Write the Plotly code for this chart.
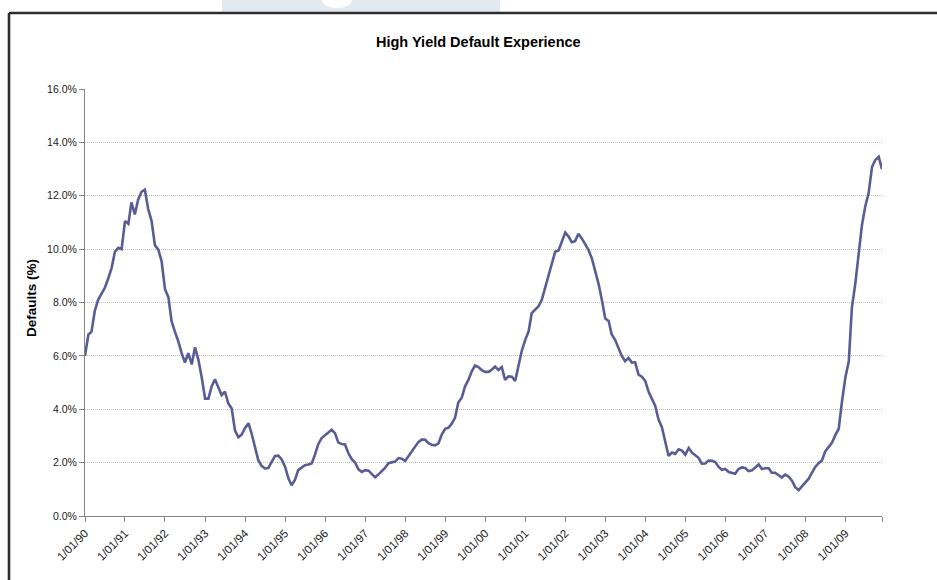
import pandas as pd
import plotly.graph_objects as go

title = "High Yield Default Experience"
y_title = "Defaults (%)"
start_month = "1990-01-01"

default_rate = [
    6.0, 6.8, 6.9, 7.7, 8.1, 8.35, 8.55, 8.9, 9.3, 9.9, 10.05, 10.0,
    11.05, 10.95, 11.75, 11.3, 11.85, 12.15, 12.23, 11.5, 11.05, 10.15, 9.98, 9.55,
    8.5, 8.2, 7.3, 6.9, 6.55, 6.1, 5.75, 6.1, 5.68, 6.32, 5.85, 5.2,
    4.4, 4.4, 4.85, 5.12, 4.85, 4.53, 4.66, 4.22, 4.03, 3.2, 2.95, 3.05,
    3.3, 3.48, 3.1, 2.55, 2.1, 1.88, 1.78, 1.8, 2.05, 2.25, 2.26, 2.12,
    1.85, 1.4, 1.15, 1.35, 1.72, 1.83, 1.9, 1.93, 1.97, 2.3, 2.7, 2.92,
    3.02, 3.15, 3.23, 3.1, 2.75, 2.7, 2.68, 2.35, 2.13, 2.0, 1.75, 1.65,
    1.72, 1.7, 1.57, 1.45, 1.55, 1.68, 1.8, 1.98, 2.02, 2.04, 2.17, 2.15,
    2.06, 2.25, 2.42, 2.62, 2.77, 2.86, 2.86, 2.73, 2.67, 2.65, 2.72, 3.05,
    3.27, 3.31, 3.45, 3.68, 4.25, 4.43, 4.85, 5.1, 5.42, 5.64, 5.58, 5.46,
    5.4, 5.4, 5.48, 5.6, 5.47, 5.58, 5.1, 5.23, 5.22, 5.06, 5.65, 6.2,
    6.6, 6.92, 7.6, 7.73, 7.85, 8.1, 8.52, 9.05, 9.48, 9.9, 9.95, 10.3,
    10.62, 10.47, 10.26, 10.3, 10.58, 10.4, 10.18, 9.97, 9.65, 9.22, 8.7, 8.1,
    7.4, 7.31, 6.8, 6.6, 6.32, 6.0, 5.8, 5.92, 5.75, 5.76, 5.3, 5.22,
    5.06, 4.65, 4.4, 4.13, 3.62, 3.33, 2.8, 2.25, 2.38, 2.33, 2.5, 2.45,
    2.3, 2.55, 2.38, 2.27, 2.18, 1.96, 1.97, 2.08, 2.07, 2.02, 1.84, 1.73,
    1.76, 1.65, 1.63, 1.58, 1.76, 1.82, 1.8, 1.68, 1.71, 1.83, 1.93, 1.76,
    1.79, 1.79, 1.62, 1.62, 1.52, 1.44, 1.55, 1.48, 1.32, 1.08, 0.97, 1.1,
    1.24, 1.4, 1.62, 1.84, 1.98, 2.08, 2.42, 2.58, 2.75, 3.03, 3.27, 4.3,
    5.2, 5.8, 7.8, 8.7, 9.7, 10.9, 11.6, 12.1, 13.08, 13.34, 13.46, 13.0,
]

y_ticks = [0, 2, 4, 6, 8, 10, 12, 14, 16]
y_tick_text = [f"{v:.1f}%" for v in y_ticks]

months = pd.date_range(start_month, periods=len(default_rate), freq="MS")
tick_dates = list(months[::12]) + [months[-1]]
tick_text = [d.strftime("%-m/%d/%y") for d in months[::12]] + [""]

W, H = 937, 580
L, R, T, B = 85, 882, 89, 516


def px(x):
    return (x - L) / (R - L)


def py(y):
    return (B - y) / (B - T)


fig = go.Figure()
fig.add_trace(go.Scatter(
    x=months, y=default_rate, mode="lines",
    line=dict(color="#5A5C96", width=2.6),
    hoverinfo="x+y", showlegend=False,
))

font = "Liberation Sans, Arial, sans-serif"

shapes = [
    # faint watermark band at the top
    dict(type="rect", xref="paper", yref="paper", x0=px(222), x1=px(500),
         y0=py(12), y1=py(0), fillcolor="#E3E9F1", line=dict(width=0), layer="below"),
    dict(type="circle", xref="paper", yref="paper", x0=px(322), x1=px(352),
         y0=py(8), y1=py(-8), fillcolor="#FFFFFF", line=dict(width=0), layer="below"),
    # frame
    dict(type="line", xref="paper", yref="paper", x0=px(9), x1=px(940),
         y0=py(13), y1=py(13), line=dict(color="#2E2E2E", width=2.4)),
    dict(type="line", xref="paper", yref="paper", x0=px(9), x1=px(9),
         y0=py(13), y1=py(590), line=dict(color="#2E2E2E", width=2.6)),
]

fig.update_layout(
    width=W, height=H,
    margin=dict(l=L, r=W - R, t=T, b=H - B),
    paper_bgcolor="white", plot_bgcolor="white",
    font=dict(family=font, size=10.5, color="#1A1A1A"),
    shapes=shapes,
    annotations=[
        dict(text="<b>" + title + "</b>", xref="paper", yref="paper",
             x=px(478), y=py(42), xanchor="center", yanchor="middle",
             showarrow=False,
             font=dict(size=14.5, family=font, color="#000000")),
        dict(text="<b>" + y_title + "</b>", xref="paper", yref="paper",
             x=px(31), y=py(298), xanchor="center", yanchor="middle",
             showarrow=False, textangle=-90,
             font=dict(size=13.5, family=font, color="#000000")),
    ],
)

fig.update_xaxes(
    range=[months[0], months[-1]],
    tickvals=tick_dates, ticktext=tick_text, tickangle=-45,
    showgrid=False, zeroline=False,
    showline=True, linecolor="#868686", linewidth=1,
    ticks="outside", ticklen=5, tickcolor="#868686",
    tickfont=dict(size=11.5, family=font, color="#1A1A1A"),
)
fig.update_yaxes(
    range=[0, 16], tickvals=y_ticks, ticktext=y_tick_text,
    showgrid=True, gridcolor="#BEBEBE", griddash="1px,1px", gridwidth=1,
    zeroline=False,
    showline=True, linecolor="#868686", linewidth=1,
    ticks="outside", ticklen=5, tickcolor="#868686",
    tickfont=dict(size=10.5, family=font, color="#1A1A1A"),
)

fig.write_html("out.html")
